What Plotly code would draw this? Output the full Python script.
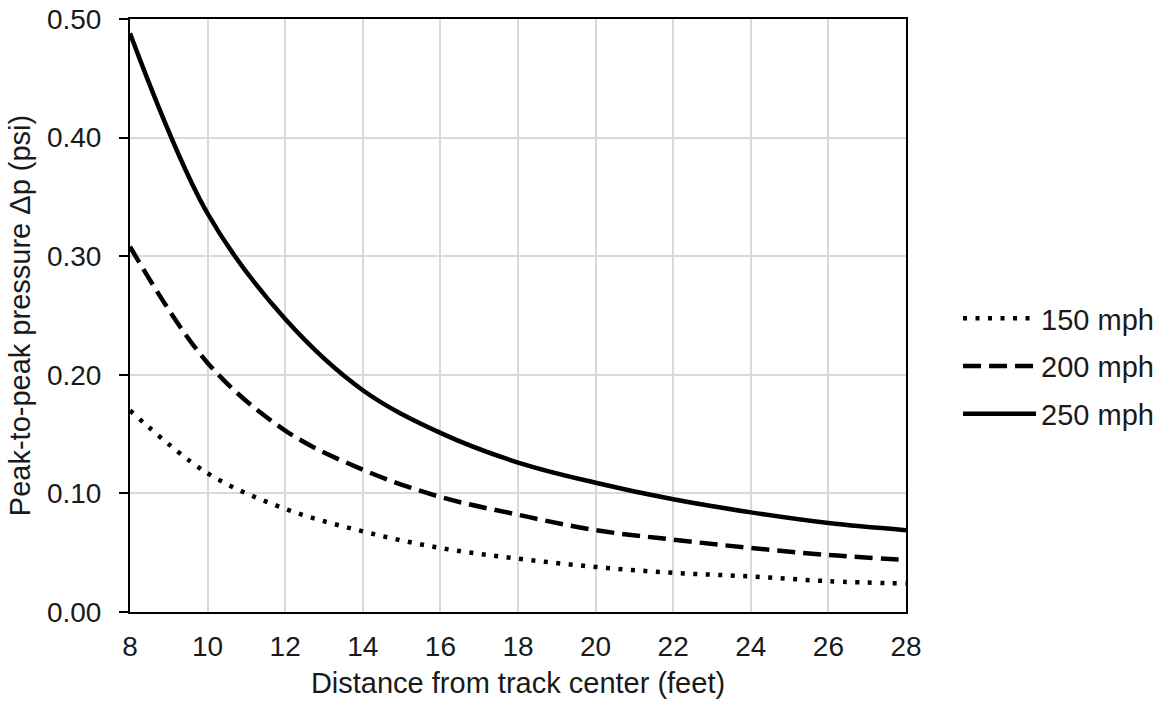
import plotly.graph_objects as go

distance = [8, 10, 12, 14, 16, 18, 20, 22, 24, 26, 28]
p150 = [0.170, 0.117, 0.087, 0.068, 0.054, 0.045, 0.038, 0.033, 0.030, 0.026, 0.024]
p200 = [0.308, 0.210, 0.153, 0.120, 0.097, 0.082, 0.069, 0.061, 0.054, 0.048, 0.044]
p250 = [0.488, 0.336, 0.247, 0.187, 0.151, 0.126, 0.109, 0.095, 0.084, 0.075, 0.069]
names = ["150 mph", "200 mph", "250 mph"]

font = "Liberation Sans, Arial, sans-serif"
FS = 28
FT = 29
fig = go.Figure()
styles = [dict(width=4.5, dash="4px,8.5px"), dict(width=4.5, dash="18px,8px"), dict(width=4.5, dash="solid")]
for i, (nm, ys) in enumerate(zip(names, [p150, p200, p250])):
    fig.add_trace(go.Scatter(x=distance, y=ys, name=nm, mode="lines",
                             line=dict(color="black", shape="spline", **styles[i]),
                             legendgroup=nm))

fig.update_layout(
    width=1159, height=705,
    margin=dict(l=130, r=253, t=19, b=93),
    plot_bgcolor="white", paper_bgcolor="white",
    font=dict(family=font, size=FS, color="#1a1a1a"),
    legend=dict(xref="container", x=0.8266, xanchor="left", y=0.414, yanchor="middle",
                font=dict(size=FT, family=font), tracegroupgap=7,
                traceorder="grouped", itemwidth=73),
    xaxis=dict(range=[8, 28], tickvals=list(range(8, 29, 2)), showgrid=True,
               gridcolor="#d9d9d9", gridwidth=1.5, showline=True, linecolor="black",
               linewidth=2, mirror=True, ticks="", zeroline=False, automargin=False,
               tickfont=dict(size=FS, family=font), ticklabelstandoff=8,
               title=dict(text="Distance from track center (feet)", font=dict(size=FT, family=font), standoff=12)),
    yaxis=dict(range=[0, 0.5], tickvals=[0, 0.1, 0.2, 0.3, 0.4, 0.5], tickformat=".2f",
               showgrid=True, gridcolor="#d9d9d9", gridwidth=1.5, showline=True,
               linecolor="black", linewidth=2, mirror=True, ticks="outside", ticklen=9,
               tickwidth=2, tickcolor="black", zeroline=False, automargin=False,
               tickfont=dict(size=FS, family=font), ticklabelstandoff=12,
               title=dict(text="Peak-to-peak pressure Δp (psi)", font=dict(size=FT, family=font), standoff=8)),
)
fig.write_html("out.html")
